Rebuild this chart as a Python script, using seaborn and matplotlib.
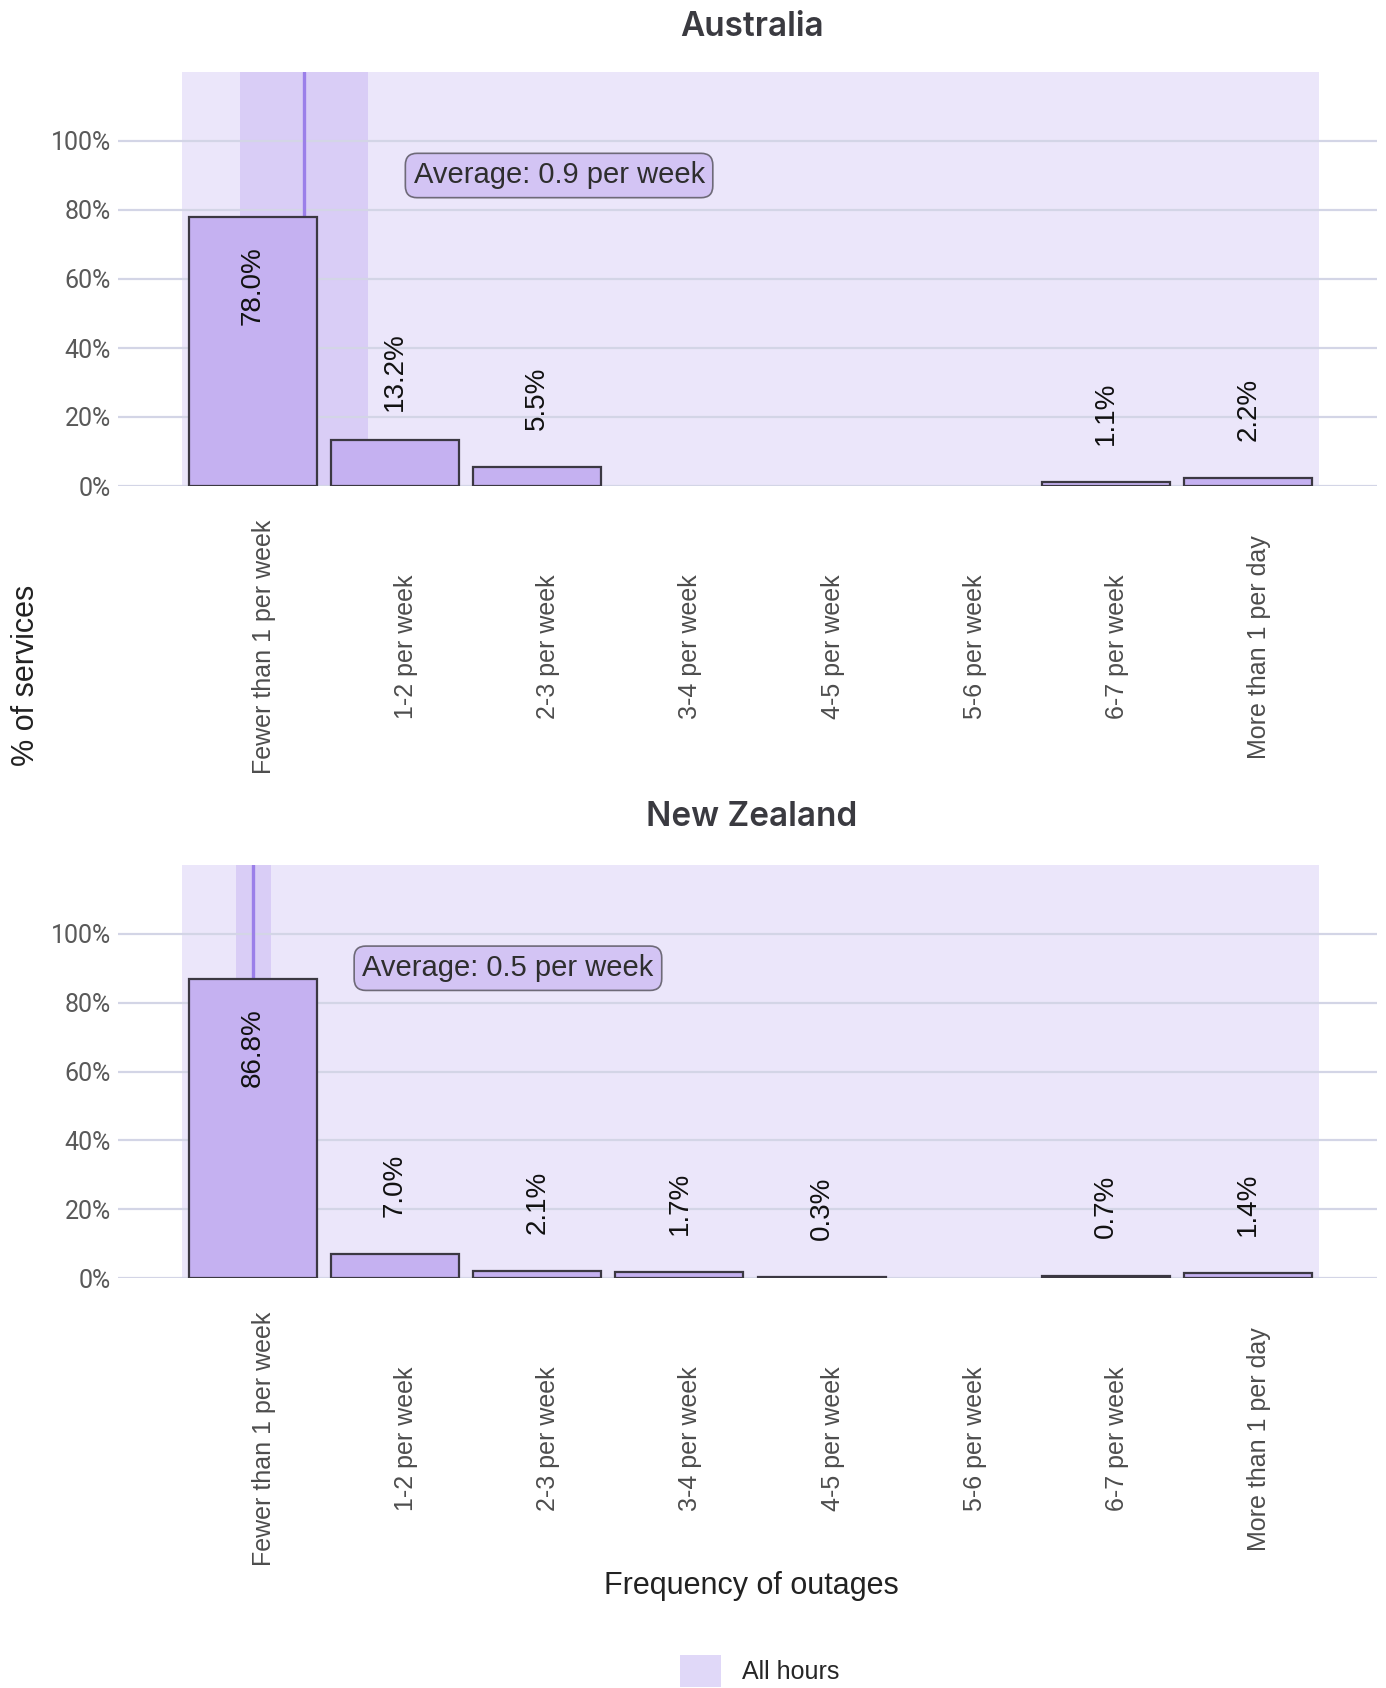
import numpy as np
import pandas as pd
import matplotlib
matplotlib.use("Agg")
import matplotlib.pyplot as plt
import matplotlib.transforms as mtransforms
from matplotlib.patches import Rectangle, Patch
import seaborn as sns

# ---- data -------------------------------------------------------------
categories = [
    "Fewer than 1 per week", "1-2 per week", "2-3 per week", "3-4 per week",
    "4-5 per week", "5-6 per week", "6-7 per week", "More than 1 per day",
]
regions = ["Australia", "New Zealand"]
australia_pct = [78.0, 13.2, 5.5, 0.0, 0.0, 0.0, 1.1, 2.2]
new_zealand_pct = [86.8, 7.0, 2.1, 1.7, 0.3, 0.0, 0.7, 1.4]
average_per_week = [0.9, 0.5]
average_low = [0.4, 0.37]
average_high = [1.4, 0.64]
y_ticks = [0, 20, 40, 60, 80, 100]
legend_label = "All hours"

# ---- style ------------------------------------------------------------
sns.set_theme(style="white")
plt.rcParams["font.family"] = ["Liberation Sans", "DejaVu Sans"]

BAR_FILL = "#c5b1f1"
BAR_EDGE = "#3b3842"
PANEL_BG = "#ebe6fa"
BAND = "#d9cdf6"
AVG_LINE = "#9b7fe9"
GRID = "#d3d5e6"
BOX_FILL = "#d3c4f4"
LEGEND_FILL = "#e0d8f8"

W, H = 1386, 1688
fig = plt.figure(figsize=(W / 100, H / 100), dpi=100)

def fx(px):
    return px / W

def fy(py):
    return 1 - py / H

axes = [
    fig.add_axes([fx(118), fy(486), fx(1259), 414 / H]),
    fig.add_axes([fx(118), fy(1278), fx(1259), 413 / H]),
]
title_y = [27, 817]
values_by_region = [australia_pct, new_zealand_pct]


def week_to_pos(v):
    # each category spans one outage per week across a bar of width 0.9
    return (v - 0.5) * 0.9


label_shift = mtransforms.ScaledTranslation(11 / 100, 0, fig.dpi_scale_trans)

for k, ax in enumerate(axes):
    vals = np.array(values_by_region[k], dtype=float)
    df = pd.DataFrame({"freq": categories, "pct": vals / 100.0})
    df.loc[df["pct"] == 0, "pct"] = np.nan

    ax.set_facecolor("white")
    ax.add_patch(Rectangle((-0.5, 0), 8, 1.2, facecolor=PANEL_BG,
                           edgecolor="none", zorder=0))
    ax.axvspan(week_to_pos(average_low[k]), week_to_pos(average_high[k]),
               color=BAND, lw=0, zorder=0.3)
    for t in y_ticks:
        ax.axhline(t / 100.0, color=GRID, lw=1.6, zorder=0.6)
    ax.axvline(week_to_pos(average_per_week[k]), color=AVG_LINE, lw=2.4,
               zorder=0.9)

    sns.barplot(data=df, x="freq", y="pct", order=categories, ax=ax,
                color=BAR_FILL, saturation=1, width=0.9,
                edgecolor=BAR_EDGE, linewidth=1.6, zorder=2, errorbar=None)

    for i, v in enumerate(vals):
        if v <= 0:
            continue
        y = v / 100.0
        ly = y - 0.2 if y > 0.5 else y + 0.2
        ax.text(i, ly, f"{v:.1f}%", rotation=90, ha="center", va="center",
                fontsize=20, color="#111111", zorder=3)

    ax.text(week_to_pos(average_per_week[k]) + 0.77, 0.9,
            f"Average: {average_per_week[k]:.1f} per week",
            ha="left", va="center", fontsize=21, color="#2e2e2e", zorder=4,
            bbox=dict(boxstyle="round,pad=0.28,rounding_size=0.4",
                      facecolor=BOX_FILL, edgecolor="#6e6a78", lw=1.2))

    ax.set_xlim(-0.948, 7.905)
    ax.set_ylim(0, 1.2)
    ax.set_xticks(range(len(categories)))
    ax.set_xticklabels(categories, rotation=90, ha="center", va="center")
    ax.tick_params(axis="x", length=0, pad=116, labelsize=18,
                   labelcolor="#4d4d4d")
    for lab in ax.get_xticklabels():
        lab.set_transform(lab.get_transform() + label_shift)
    ax.set_yticks([t / 100.0 for t in y_ticks])
    ax.set_yticklabels([f"{t}%" for t in y_ticks])
    ax.tick_params(axis="y", length=0, pad=5, labelsize=18,
                   labelcolor="#595959")
    for lab in ax.get_yticklabels():
        lab.set_family(["Roboto", "DejaVu Sans"])
    ax.set_xlabel("")
    ax.set_ylabel("")
    for s in ax.spines.values():
        s.set_visible(False)

    fig.text(fx(752), fy(title_y[k]), regions[k], ha="center", va="center",
             fontsize=24, fontweight="semibold", color="#3a3a40",
             family=["Inter", "DejaVu Sans"])

fig.text(fx(26), fy(675), "% of services", rotation=90, ha="center",
         va="center", fontsize=22, color="#222222")
fig.text(fx(751), fy(1586), "Frequency of outages", ha="center",
         va="center", fontsize=22, color="#222222")

fig.legend(handles=[Patch(facecolor=LEGEND_FILL, edgecolor="none",
                          label=legend_label)],
           loc="center", bbox_to_anchor=(fx(760), fy(1671)), frameon=False,
           fontsize=18, handlelength=1.64, handleheight=1.64,
           handletextpad=0.85, borderpad=0)

fig.savefig("out.png", dpi=100, facecolor="white")
